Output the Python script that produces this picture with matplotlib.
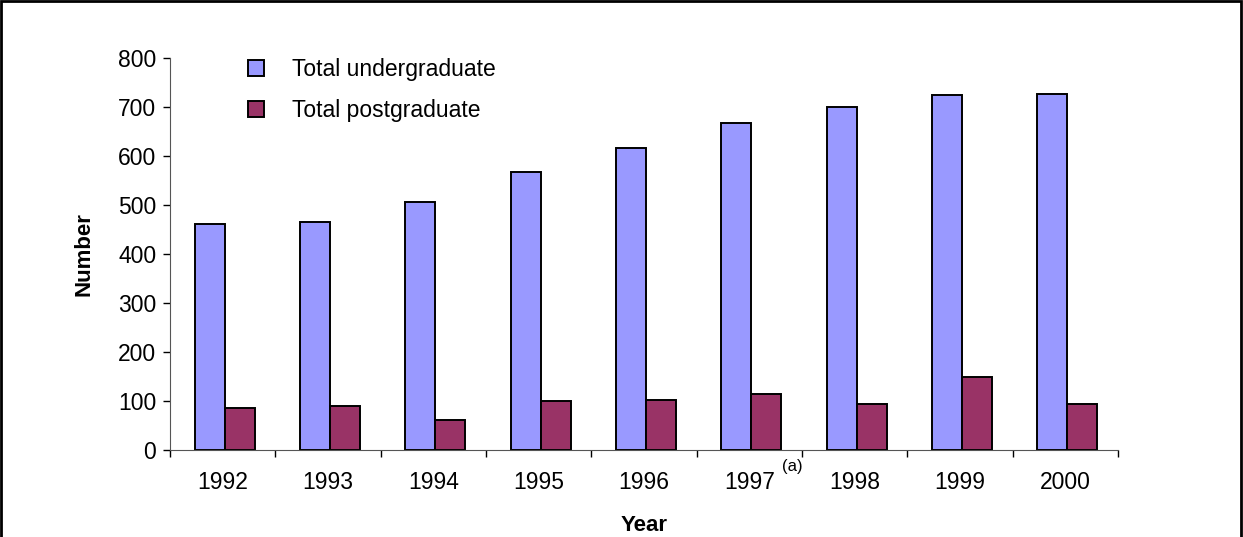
import matplotlib.pyplot as plt
import numpy as np
from matplotlib.patches import Rectangle

plt.rcParams['font.family'] = ['Liberation Sans', 'DejaVu Sans']

years = ['1992', '1993', '1994', '1995', '1996', '1997', '1998', '1999', '2000']
undergrad = [462, 466, 507, 568, 617, 667, 699, 724, 727]
postgrad = [86, 90, 61, 99, 102, 114, 94, 148, 94]

fig = plt.figure(figsize=(12.43, 5.37), dpi=100)
ax = fig.add_axes([0.1368, 0.162, 0.7626, 0.730])

x = np.arange(len(years))
w = 0.285
ax.bar(x - w / 2 + 0.02, undergrad, w, color='#9999FF', edgecolor='black',
       linewidth=1.4, label='Total undergraduate')
ax.bar(x + w / 2 + 0.02, postgrad, w, color='#993366', edgecolor='black',
       linewidth=1.4, label='Total postgraduate')

ax.set_xlim(-0.5, len(years) - 0.5)
ax.set_ylim(0, 800)
ax.set_yticks(range(0, 801, 100))
ax.tick_params(axis='y', labelsize=16.5, length=5, width=1, pad=5)
ax.set_xticks(x)
ax.set_xticklabels(years)
ax.tick_params(axis='x', which='major', length=0, labelsize=16.5, pad=15)
ax.set_xticks(np.arange(-0.5, len(years)), minor=True)
ax.tick_params(axis='x', which='minor', length=5, width=1, direction='out')
for s in ['top', 'right']:
    ax.spines[s].set_visible(False)
ax.spines['left'].set_color('#555555')
ax.spines['bottom'].set_color('#555555')

# footnote marker next to 1997
ax.text(5.41, -34, '(a)', fontsize=12, ha='center', va='center')

ax.set_ylabel('Number', fontsize=16, fontweight='bold', labelpad=17)
ax.set_xlabel('Year', fontsize=16, fontweight='bold', labelpad=15)

ax.legend(loc='upper left', bbox_to_anchor=(0.061, 1.053), frameon=False,
          fontsize=16.5, handlelength=0.68, handleheight=0.68,
          handletextpad=1.2, labelspacing=0.8)

fig.patches.append(Rectangle((0.001, -0.05), 0.997, 1.048, transform=fig.transFigure,
                             fill=False, edgecolor='black', linewidth=2, clip_on=False))

fig.savefig('out.png', dpi=100)
